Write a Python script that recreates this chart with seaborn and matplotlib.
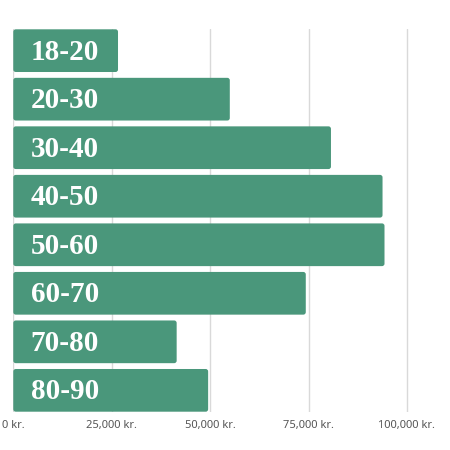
import pandas as pd
import seaborn as sns
import matplotlib.pyplot as plt
from matplotlib.patches import FancyBboxPatch
from matplotlib.ticker import FuncFormatter

age_groups = ["18-20", "20-30", "30-40", "40-50", "50-60", "60-70", "70-80", "80-90"]
amounts = [26600, 55000, 80700, 93800, 94300, 74300, 41500, 49500]
tick_values = [0, 25000, 50000, 75000, 100000]

df = pd.DataFrame({"age": age_groups, "amount": amounts})

sns.set_style("white")
plt.rcParams['font.family'] = ['Noto Sans', 'DejaVu Sans']

fig = plt.figure(figsize=(4.5, 4.5), dpi=100)
ax = fig.add_axes([13.3 / 450, 1 - 411.7 / 450, 433 / 450, (411.7 - 29.3) / 450])

sns.barplot(data=df, x="amount", y="age", color="#4a977b", saturation=1,
            width=0.88, ax=ax, zorder=2)

ax.set_xlim(0, 110000)
ax.set_ylim(len(age_groups) - 1 + 0.44, -0.44)

# swap plain bars for slightly rounded ones
px_x = 110000 / 433
px_y = (len(age_groups) - 1 + 0.88) / 382.4
for p in list(ax.patches):
    x, y, w, h = p.get_x(), p.get_y(), p.get_width(), p.get_height()
    fc = p.get_facecolor()
    p.remove()
    ax.add_patch(FancyBboxPatch((x, y), w, h,
                                boxstyle=f"round,pad=0,rounding_size={2.5 * px_x}",
                                mutation_aspect=px_y / px_x,
                                facecolor=fc, edgecolor="none", zorder=2))

ax.set_xticks(tick_values)
ax.xaxis.set_major_formatter(FuncFormatter(lambda v, p: f"{int(v):,} kr."))
ax.tick_params(axis="x", labelsize=8, colors="#555555", length=0, pad=6)
ax.set_yticks([])
ax.set_xlabel("")
ax.set_ylabel("")
ax.grid(axis="x", color="#d9d9d9", linewidth=1, zorder=0)
for s in ax.spines.values():
    s.set_visible(False)

for i, lab in enumerate(age_groups):
    ax.text(4400, i + 0.03, lab, color="white", fontsize=21, fontweight="bold",
            family=["Liberation Serif", "DejaVu Serif"], va="center", ha="left", zorder=3)

fig.savefig("out.png", dpi=100)
